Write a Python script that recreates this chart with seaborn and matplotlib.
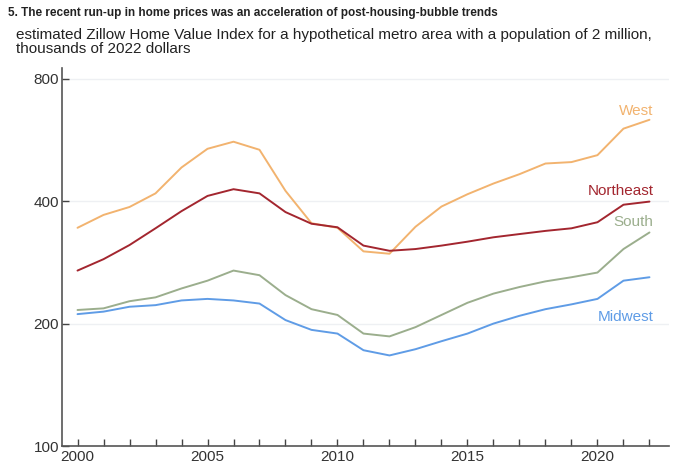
import numpy as np
import pandas as pd
import matplotlib
matplotlib.use("Agg")
import matplotlib.pyplot as plt
import matplotlib.ticker as mticker
import seaborn as sns

sns.set_style("white")
plt.rcParams['font.family'] = ['Liberation Sans', 'DejaVu Sans']

years = list(range(2000, 2023))

west = [344, 370, 387, 418, 484, 538, 560, 535, 424, 353, 344, 301, 297,
        346, 388, 416, 442, 466, 495, 499, 519, 603, 634]
northeast = [270, 288, 312, 343, 378, 412, 428, 418, 376, 352, 345, 311, 302,
             305, 311, 318, 326, 332, 338, 343, 355, 392, 399]
south = [216, 218, 227, 232, 244, 255, 270, 263, 235, 217, 210, 189, 186,
         196, 210, 225, 237, 246, 254, 260, 267, 305, 335]
midwest = [211, 214, 220, 222, 228, 230, 228, 224, 204, 193, 189, 172, 167,
           173, 181, 189, 200, 209, 217, 223, 230, 255, 260]

regions = ["West", "Northeast", "South", "Midwest"]
colors = {"West": "#F2B36F", "Northeast": "#A3262F",
          "South": "#9BAE8D", "Midwest": "#5F9CE6"}

df = pd.DataFrame({"year": years, "West": west, "Northeast": northeast,
                   "South": south, "Midwest": midwest})
long = df.melt(id_vars="year", var_name="region", value_name="value")

fig = plt.figure(figsize=(6.73, 4.69), dpi=100)
ax = fig.add_axes([0.092, 0.049, 0.902, 0.806])

sns.lineplot(data=long, x="year", y="value", hue="region", hue_order=regions,
             palette=colors, linewidth=1.4, legend=False, ax=ax)

ax.set_yscale("log")
ax.set_ylim(100, 850)
ax.set_xlim(1999.4, 2022.75)
ax.set_yticks([100, 200, 400, 800])
ax.yaxis.set_major_formatter(mticker.FormatStrFormatter("%d"))
ax.yaxis.set_minor_locator(mticker.NullLocator())
ax.set_xticks(range(2000, 2021, 5))
ax.set_xticks(years, minor=True)
ax.tick_params(axis="both", which="both", direction="in", length=5,
               width=1, color="#444444", labelsize=11, labelcolor="#333333",
               pad=2, bottom=True, left=True)
ax.tick_params(axis="x", which="major", pad=3)
for y in [200, 400, 800]:
    ax.axhline(y, color="#EEF0F3", linewidth=1, zorder=0)

for s in ["top", "right"]:
    ax.spines[s].set_visible(False)
for s in ["left", "bottom"]:
    ax.spines[s].set_color("#555555")
    ax.spines[s].set_linewidth(1.2)
ax.set_xlabel("")
ax.set_ylabel("")

label_pos = {"West": 667, "Northeast": 424, "South": 355, "Midwest": 208}
for r in regions:
    ax.text(2022.15, label_pos[r], r, color=colors[r], fontsize=11,
            ha="right", va="center")

fig.text(0.012, 0.972, "5. The recent run-up in home prices was an acceleration of post-housing-bubble trends",
         fontsize=8.5, fontweight="bold", color="#222222",
         family=["Liberation Sans Narrow", "Liberation Sans"], va="center")
fig.text(0.024, 0.94, "estimated Zillow Home Value Index for a hypothetical metro area with a population of 2 million,\nthousands of 2022 dollars",
         fontsize=11, color="#222222", va="top", linespacing=1.0)

fig.savefig("out.png", dpi=100)
